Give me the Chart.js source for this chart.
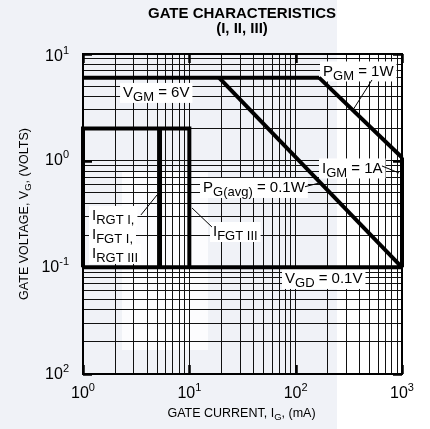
<!DOCTYPE html>
<html><head><meta charset="utf-8">
<script src="https://cdn.jsdelivr.net/npm/chart.js@4"></script>
<style>html,body{margin:0;padding:0;background:#fff;}canvas{display:block;}</style>
</head><body>
<canvas id="c" width="430" height="429"></canvas>
<script>
// ---- data (gate current in mA, gate voltage in V) ----
const xGridValues = [1,2,3,4,5,6,7,8,9,10,20,30,40,50,60,70,80,90,100,200,300,400,500,600,700,800,900,1000];
const yGridValues = [0.01,0.02,0.03,0.04,0.05,0.06,0.07,0.08,0.09,0.1,0.2,0.3,0.4,0.5,0.6,0.7,0.8,0.9,1,2,3,4,5,6,7,8,9,10];
const xMajorTicks = [1,10,100,1000];
const xTickExponents = ['0','1','2','3'];
const yMajorTicks = [0.01,0.1,1,10];
const yTickExponents = ['2','-1','0','1'];

const vgmCurrent = [1, 166];      const vgmVoltage = [6, 6];
const pgmCurrent = [166, 1000];   const pgmVoltage = [6, 1.07];
const igmCurrent = [1000, 1000];  const igmVoltage = [1.07, 0.1];
const pgAvgCurrent = [19, 1000];  const pgAvgVoltage = [6, 0.1];
const vgdCurrent = [1, 1000];     const vgdVoltage = [0.1, 0.1];
const igtCurrent = [1, 1, 10, 10]; const igtVoltage = [0.1, 2, 2, 0.1];
const ifgt3Current = [5.3, 5.3];  const ifgt3Voltage = [2, 0.1];

const toPts = (xs, ys) => xs.map((v, i) => ({x: v, y: ys[i]}));

// ---- annotations (anchored in data coordinates) ----
const labels = [
  {parts: [['V','n'],['GM','s'],[' = 6V','n']], at: [2.38, 4.41]},
  {parts: [['P','n'],['GM','s'],[' = 1W','n']], at: [180.8, 7.01]},
  {parts: [['I','n'],['GM','s'],[' = 1A','n']], at: [176.9, 0.864]},
  {parts: [['P','n'],['G(avg)','s'],[' = 0.1W','n']], at: [13.45, 0.567]},
  {parts: [['I','n'],['FGT III','s']], at: [16.7, 0.219]},
  {parts: [['I','n'],['RGT I,','s']], at: [1.215, 0.31]},
  {parts: [['I','n'],['FGT I,','s']], at: [1.215, 0.2056]},
  {parts: [['I','n'],['RGT III','s']], at: [1.215, 0.1364]},
  {parts: [['V','n'],['GD','s'],[' = 0.1V','n']], at: [79.4, 0.0795]}
];
const leaders = [
  [[522, 5.71], [346, 2.99]],
  [[648, 0.892], [937, 0.767]],
  [[122.4, 0.570], [171.2, 0.622]],
  [[10.6, 0.360], [16.3, 0.239]],
  [[3.51, 0.31], [4.97, 0.477]]
];

const FONT = '"Liberation Sans", Arial, Helvetica, sans-serif';
const SIZES = {n: 15, s: 13, p: 11};
const OFFS = {n: 0, s: 4, p: -6.5};

function richWidth(ctx, parts, sizes) {
  let w = 0;
  for (const [t, k] of parts) { ctx.font = sizes[k] + 'px ' + FONT; w += ctx.measureText(t).width; }
  return w;
}
function drawRich(ctx, parts, x, base, sizes, offs) {
  let cx = x;
  for (const [t, k] of parts) {
    ctx.font = sizes[k] + 'px ' + FONT;
    ctx.fillText(t, cx, base + offs[k]);
    cx += ctx.measureText(t).width;
  }
}

const decor = {
  id: 'decor',
  beforeDraw(chart) {
    // faint watermark tone of the scanned sheet
    const {ctx} = chart;
    ctx.save();
    ctx.fillStyle = '#fff';
    ctx.fillRect(0, 0, 430, 429);
    ctx.fillStyle = '#f0f2f7';
    ctx.fillRect(0, 0, 337, 429);
    ctx.fillStyle = '#fcfcfe';
    ctx.fillRect(122, 172, 86, 178);
    ctx.restore();
  },
  beforeDatasetsDraw(chart) {
    const {ctx, scales: {x, y}} = chart;
    ctx.save();
    ctx.textBaseline = 'alphabetic';
    ctx.textAlign = 'left';
    for (const lb of labels) {
      const px = x.getPixelForValue(lb.at[0]);
      const py = y.getPixelForValue(lb.at[1]);
      const w = richWidth(ctx, lb.parts, SIZES);
      ctx.fillStyle = '#fff';
      ctx.fillRect(px - 3, py - 9, w + 6, 20);
    }
    ctx.fillStyle = '#000';
    for (const lb of labels) {
      const px = x.getPixelForValue(lb.at[0]);
      const py = y.getPixelForValue(lb.at[1]);
      drawRich(ctx, lb.parts, px, py + 5.4, SIZES, OFFS);
    }
    ctx.strokeStyle = '#000';
    ctx.lineWidth = 1;
    for (const [a, b] of leaders) {
      ctx.beginPath();
      ctx.moveTo(x.getPixelForValue(a[0]), y.getPixelForValue(a[1]));
      ctx.lineTo(x.getPixelForValue(b[0]), y.getPixelForValue(b[1]));
      ctx.stroke();
    }
    ctx.restore();
  },
  afterDatasetsDraw(chart) {
    const {ctx, chartArea: ca, scales: {x, y}} = chart;
    ctx.save();
    ctx.strokeStyle = '#000';
    ctx.lineWidth = 2;
    ctx.strokeRect(ca.left, ca.top, ca.right - ca.left, ca.bottom - ca.top);
    ctx.lineWidth = 2.5;
    for (const v of xMajorTicks) {
      const px = Math.round(x.getPixelForValue(v)) + 0.5;
      ctx.beginPath();
      ctx.moveTo(px, ca.bottom); ctx.lineTo(px, ca.bottom - 9);
      ctx.moveTo(px, ca.top); ctx.lineTo(px, ca.top + 9);
      ctx.stroke();
    }
    for (const v of yMajorTicks) {
      const py = Math.round(y.getPixelForValue(v)) + 0.5;
      ctx.beginPath();
      ctx.moveTo(ca.left, py); ctx.lineTo(ca.left + 9, py);
      ctx.moveTo(ca.right, py); ctx.lineTo(ca.right - 9, py);
      ctx.stroke();
    }
    ctx.restore();
  },
  afterDraw(chart) {
    const {ctx, chartArea: ca, scales: {x, y}} = chart;
    ctx.save();
    ctx.fillStyle = '#000';
    ctx.textBaseline = 'alphabetic';
    ctx.textAlign = 'left';
    const tsz = {n: 16, p: 11};
    const toff = {n: 0, p: -7};
    xMajorTicks.forEach((v, i) => {
      const parts = [['10','n'],[xTickExponents[i],'p']];
      const w = richWidth(ctx, parts, tsz);
      drawRich(ctx, parts, x.getPixelForValue(v) - w / 2, ca.bottom + 24, tsz, toff);
    });
    yMajorTicks.forEach((v, i) => {
      const parts = [['10','n'],[yTickExponents[i],'p']];
      const w = richWidth(ctx, parts, tsz);
      const dy = i === yMajorTicks.length - 1 ? 7 : 4.5;
      drawRich(ctx, parts, ca.left - 14 - w, y.getPixelForValue(v) + dy, tsz, toff);
    });
    // title
    ctx.textAlign = 'center';
    ctx.font = 'bold 15px ' + FONT;
    ctx.fillText('GATE CHARACTERISTICS', 242, 17.5);
    ctx.fillText('(I, II, III)', 242, 32.5);
    ctx.textAlign = 'left';
    // axis titles
    const asz = {n: 12.5, s: 9.5};
    const aoff = {n: 0, s: 2.5};
    const xt = [['GATE CURRENT, I','n'],['G','s'],[', (mA)','n']];
    const xw = richWidth(ctx, xt, asz);
    drawRich(ctx, xt, 241.5 - xw / 2, 417, asz, aoff);
    const yt = [['GATE VOLTAGE, V','n'],['G','s'],[', (VOLTS)','n']];
    const yw = richWidth(ctx, yt, asz);
    ctx.translate(28.3, 214);
    ctx.rotate(-Math.PI / 2);
    drawRich(ctx, yt, -yw / 2, 0, asz, aoff);
    ctx.restore();
  }
};

const lineStyle = {borderColor: '#000', backgroundColor: '#000', borderWidth: 4, pointRadius: 0, showLine: true, fill: false, clip: false, borderJoinStyle: 'miter', borderCapStyle: 'butt'};

new Chart(document.getElementById('c'), {
  type: 'scatter',
  data: {
    datasets: [
      {label: 'VGM', data: toPts(vgmCurrent, vgmVoltage), ...lineStyle},
      {label: 'PGM', data: toPts(pgmCurrent, pgmVoltage), ...lineStyle},
      {label: 'IGM', data: toPts(igmCurrent, igmVoltage), ...lineStyle},
      {label: 'PGavg', data: toPts(pgAvgCurrent, pgAvgVoltage), ...lineStyle},
      {label: 'VGD', data: toPts(vgdCurrent, vgdVoltage), ...lineStyle},
      {label: 'IGT', data: toPts(igtCurrent, igtVoltage), ...lineStyle},
      {label: 'IFGT III', data: toPts(ifgt3Current, ifgt3Voltage), ...lineStyle}
    ]
  },
  options: {
    responsive: false,
    animation: false,
    events: [],
    layout: {padding: {left: 83, top: 54, right: 28, bottom: 55}},
    plugins: {legend: {display: false}, tooltip: {enabled: false}, title: {display: false}},
    scales: {
      x: {
        type: 'logarithmic', min: 1, max: 1000,
        afterBuildTicks: (s) => { s.ticks = xGridValues.map(v => ({value: v})); },
        ticks: {display: false},
        grid: {color: '#111', lineWidth: 1, drawTicks: false},
        border: {display: false}
      },
      y: {
        type: 'logarithmic', min: 0.01, max: 10,
        afterBuildTicks: (s) => { s.ticks = yGridValues.map(v => ({value: v})); },
        ticks: {display: false},
        grid: {color: '#111', lineWidth: 1, drawTicks: false},
        border: {display: false}
      }
    }
  },
  plugins: [decor]
});
</script>
</body></html>
